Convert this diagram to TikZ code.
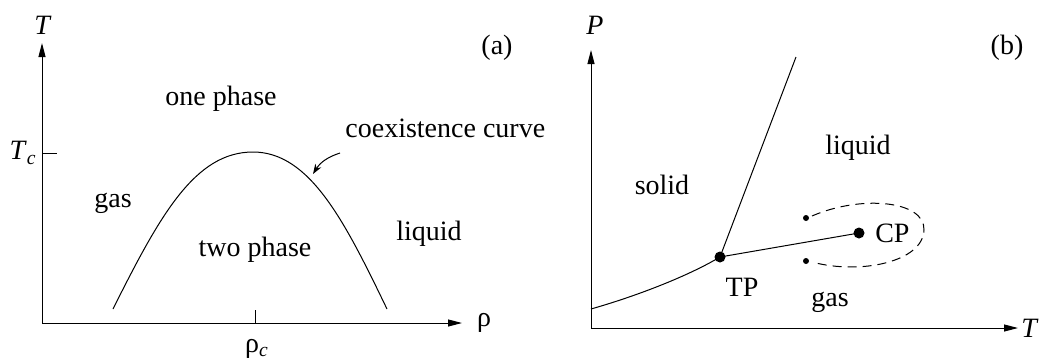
\documentclass[tikz,border=0pt]{standalone}
\usepackage{fontspec}
\setmainfont{Liberation Serif}
\newfontfamily\figfont{Liberation Serif}
\usepackage{tikz}
\usetikzlibrary{positioning, arrows.meta, calc}

\begin{document}
\begin{tikzpicture}[x=0.5pt, y=-0.5pt]
			\tikzset{
				lbl/.style={font=\figfont\fontsize{14}{16}\selectfont, inner sep=0pt},
				axis/.style={-{Triangle[length=7pt,width=3.5pt]}, line width=0.5pt},
				curve/.style={line width=0.5pt},
				bigdot/.style={circle, fill=black, minimum size=5.5pt, inner sep=0pt},
				smalldot/.style={circle, fill=black, minimum size=3pt, inner sep=0pt},
			}
			\useasboundingbox (0,0) rectangle (1040,360);
			
			% (a) density - temperature
			\coordinate (Oa) at (42,323);
			\coordinate (Ya) at (42,43);
			\coordinate (Xa) at (462,323);
			\draw[axis] (Oa) -- (Ya);
			\draw[axis] (Oa) -- (Xa);
			\node[lbl] (Ta) at (43,25) {\textit{T}};
			\node[lbl] (rho) at (484,323) {ρ};
			
			% Ticks
			\coordinate (Tc) at (42,153);
			\coordinate (Tcend) at (57,153);
			\draw[curve] (Tc) -- (Tcend);
			\node[lbl] (TcLab) at (23,153) {\textit{T}\textsubscript{\textit{c}}};
			\coordinate (rhoc) at (255,323);
			\coordinate (rhocend) at (255,310);
			\draw[curve] (rhoc) -- (rhocend);
			\node[lbl] (rhocLab) at (257,349) {ρ\textsubscript{\textit{c}}};
			
			% Coexistence curve
			\coordinate (CLeft) at (113,309);
			\coordinate (CTop) at (253,152);
			\coordinate (CRight) at (387,309);
			\draw[curve] (CLeft) .. controls (160,215) and (195,152) .. (CTop)
				.. controls (310,152) and (345,222) .. (CRight);
			\node[lbl, anchor=west] (coex) at (345,128) {coexistence curve};
			\coordinate (arrA) at (340,153);
			\coordinate (arrB) at (313,174);
			\draw[curve, -{Stealth[length=5pt,width=3.5pt]}] (arrA) to[bend right=20] (arrB);
			
			% Region labels
			\node[lbl] (one) at (221,99) {one phase};
			\node[lbl] (gasA) at (113,203) {gas};
			\node[lbl] (two) at (255,250) {two phase};
			\node[lbl] (liqA) at (429,234) {liquid};
			\node[lbl] (tagA) at (497,48) {(a)};
			
			% (b) temperature - pressure
			\coordinate (Ob) at (591,328);
			\coordinate (Yb) at (591,50);
			\coordinate (Xb) at (1018,328);
			\draw[axis] (Ob) -- (Yb);
			\draw[axis] (Ob) -- (Xb);
			\node[lbl] (Pb) at (595,25) {\textit{P}};
			\node[lbl] (Tb) at (1030,328) {\textit{T}};
			\node[lbl] (tagB) at (1007,48) {(b)};
			
			% Phase boundaries
			\node[bigdot] (TP) at (720,257) {};
			\node[bigdot] (CP) at (859,233) {};
			\coordinate (Sub) at (591,309);
			\coordinate (Melt) at (796,57);
			\draw[curve] (Sub) .. controls (640,295) and (690,275) .. (TP.center);
			\draw[curve] (TP.center) -- (Melt);
			\draw[curve] (TP.center) -- (CP.center);
			
			% Path round the critical point
			\node[smalldot] (D1) at (806,218) {};
			\node[smalldot] (D2) at (806,261) {};
			\coordinate (Far) at (924,230);
			\draw[curve, dashed, dash pattern=on 4.5pt off 3pt] ($(D1)+(6,-2)$) .. controls (860,195) and (925,200) .. (Far)
				.. controls (923,262) and (860,275) .. ($(D2)+(6,1)$);
			
			% Labels
			\node[lbl] (solid) at (662,185) {solid};
			\node[lbl] (liqB) at (858,148) {liquid};
			\node[lbl, right=5pt of CP] (CPlab) {CP};
			\node[lbl] (TPlab) at (742,287) {TP};
			\node[lbl] (gasB) at (830,302) {gas};
		\end{tikzpicture}
\end{document}
